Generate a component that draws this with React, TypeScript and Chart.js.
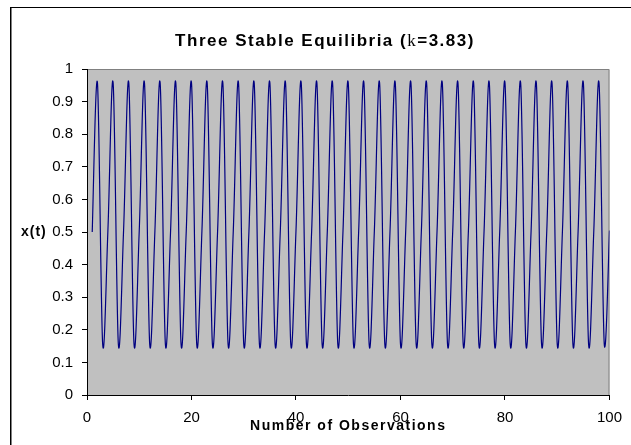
import { useEffect, useRef } from "react";
import { Chart, registerables } from "chart.js";

Chart.register(...registerables);

// Logistic map iterates, one value per observation (t = 1..100)
const X_VALUES: number[] = [
  0.5, 0.9575, 0.1559,
  0.5039, 0.9574, 0.156,
  0.5044, 0.9574, 0.1561,
  0.5046, 0.9574, 0.1561,
  0.5046, 0.9574, 0.1561,
  0.5047, 0.9574, 0.1561,
  0.5047, 0.9574, 0.1561,
  0.5047, 0.9574, 0.1561,
  0.5047, 0.9574, 0.1561,
  0.5047, 0.9574, 0.1561,
  0.5047, 0.9574, 0.1561,
  0.5047, 0.9574, 0.1561,
  0.5047, 0.9574, 0.1561,
  0.5047, 0.9574, 0.1561,
  0.5047, 0.9574, 0.1561,
  0.5047, 0.9574, 0.1561,
  0.5047, 0.9574, 0.1561,
  0.5047, 0.9574, 0.1561,
  0.5047, 0.9574, 0.1561,
  0.5047, 0.9574, 0.1561,
  0.5047, 0.9574, 0.1561,
  0.5047, 0.9574, 0.1561,
  0.5047, 0.9574, 0.1561,
  0.5047, 0.9574, 0.1561,
  0.5047, 0.9574, 0.1561,
  0.5047, 0.9574, 0.1561,
  0.5047, 0.9574, 0.1561,
  0.5047, 0.9574, 0.1561,
  0.5047, 0.9574, 0.1561,
  0.5047, 0.9574, 0.1561,
  0.5047, 0.9574, 0.1561,
  0.5047, 0.9574, 0.1561,
  0.5047, 0.9574, 0.1561,
  0.5047,
];
const OBSERVATIONS: number[] = X_VALUES.map((_, i) => i + 1);

const X_TICKS = [0, 20, 40, 60, 80, 100];
const Y_TICKS = [0, 0.1, 0.2, 0.3, 0.4, 0.5, 0.6, 0.7, 0.8, 0.9, 1];

const TITLE_PARTS = [
  { text: "Three Stable Equilibria (", font: "bold 17px 'Liberation Sans', Arial, sans-serif" },
  { text: "k", font: "17px 'Liberation Serif', 'Times New Roman', serif" },
  { text: "=3.83)", font: "bold 17px 'Liberation Sans', Arial, sans-serif" },
];
const X_TITLE = "Number of Observations";
const Y_TITLE = "x(t)";

const SANS = "'Liberation Sans', Arial, sans-serif";

// Smoothed line: cubic Bezier handles at 1/6 of the chord between
// neighbouring points (Catmull-Rom style), computed from the scaled points.
const smoothLine = {
  id: "smoothLine",
  beforeDatasetDraw(_chart: Chart, args: any) {
    const meta = args.meta;
    const pts = meta.data as any[];
    for (let i = 0; i < pts.length; i++) {
      const p = pts[i];
      const prev = pts[i - 1] || p;
      const next = pts[i + 1] || p;
      const tx = (next.x - prev.x) / 6;
      const ty = (next.y - prev.y) / 6;
      p.cp1x = p.x - tx;
      p.cp1y = p.y - ty;
      p.cp2x = p.x + tx;
      p.cp2y = p.y + ty;
    }
    if (meta.dataset) {
      meta.dataset._pointsUpdated = true;
      meta.dataset._path = undefined;
    }
  },
};

const decorations = {
  id: "decorations",
  beforeDraw(chart: Chart) {
    const { ctx, chartArea: a, width, height } = chart;
    ctx.save();
    ctx.fillStyle = "#ffffff";
    ctx.fillRect(0, 0, width, height);
    // plot area fill and its grey top/right edges
    ctx.fillStyle = "#c0c0c0";
    ctx.fillRect(a.left, a.top, a.right - a.left, a.bottom - a.top);
    ctx.strokeStyle = "#808080";
    ctx.lineWidth = 1;
    ctx.beginPath();
    ctx.moveTo(a.left, a.top + 0.5);
    ctx.lineTo(a.right - 0.5, a.top + 0.5);
    ctx.lineTo(a.right - 0.5, a.bottom);
    ctx.stroke();
    ctx.restore();
  },
  afterDraw(chart: Chart) {
    const { ctx, chartArea: a, width, height } = chart;
    ctx.save();
    // outer chart frame (left and top edges)
    ctx.fillStyle = "#000000";
    ctx.fillRect(10, 7, 1, height - 7);
    ctx.fillRect(10, 7, width - 10, 1);
    ctx.fillStyle = "#808080";
    ctx.fillRect(11, 8, 1, height - 8);

    // title with mixed fonts
    ctx.fillStyle = "#000000";
    ctx.textBaseline = "alphabetic";
    ctx.textAlign = "left";
    (ctx as any).letterSpacing = "1.5px";
    let total = 0;
    const widths = TITLE_PARTS.map((p) => {
      ctx.font = p.font;
      const w = ctx.measureText(p.text).width;
      total += w;
      return w;
    });
    let x = 325 - total / 2;
    TITLE_PARTS.forEach((p, i) => {
      ctx.font = p.font;
      ctx.fillText(p.text, x, 46);
      x += widths[i];
    });

    // axis titles
    ctx.font = `bold 14px ${SANS}`;
    (ctx as any).letterSpacing = "1.5px";
    ctx.textAlign = "center";
    ctx.fillText(X_TITLE, (a.left + a.right) / 2, 430);
    (ctx as any).letterSpacing = "1px";
    ctx.textAlign = "left";
    ctx.fillText(Y_TITLE, 21, 236);
    ctx.restore();
  },
};

export default function App() {
  const ref = useRef<HTMLCanvasElement>(null);

  useEffect(() => {
    if (!ref.current) return;
    const chart = new Chart(ref.current, {
      type: "line",
      data: {
        datasets: [
          {
            data: OBSERVATIONS.map((t, i) => ({ x: t, y: X_VALUES[i] })),
            borderColor: "#000080",
            borderWidth: 1.2,
            pointRadius: 0,
            tension: 0.3,
            fill: false,
          },
        ],
      },
      options: {
        animation: false,
        responsive: false,
        devicePixelRatio: 1,
        layout: { padding: { top: 69, right: 19, left: 0, bottom: 0 } },
        plugins: {
          legend: { display: false },
          title: { display: false },
          tooltip: { enabled: false },
        },
        scales: {
          x: {
            type: "linear",
            min: 0,
            max: 100,
            afterBuildTicks: (s: any) => {
              s.ticks = X_TICKS.map((v) => ({ value: v }));
            },
            afterFit: (s: any) => {
              s.height = 50;
            },
            border: { color: "#000000", width: 1 },
            grid: {
              drawOnChartArea: false,
              drawTicks: true,
              tickLength: 5,
              tickColor: "#000000",
              color: "#000000",
            },
            ticks: {
              color: "#000000",
              font: { family: SANS, size: 15 },
              padding: 9,
              maxRotation: 0,
              autoSkip: false,
            },
          },
          y: {
            type: "linear",
            min: 0,
            max: 1,
            afterBuildTicks: (s: any) => {
              s.ticks = Y_TICKS.map((v) => ({ value: v }));
            },
            afterFit: (s: any) => {
              s.width = 87;
            },
            border: { color: "#000000", width: 1 },
            grid: {
              drawOnChartArea: false,
              drawTicks: true,
              tickLength: 5,
              tickColor: "#000000",
              color: "#000000",
            },
            ticks: {
              color: "#000000",
              font: { family: SANS, size: 15 },
              padding: 9,
              autoSkip: false,
              callback: (v: any) => (v === 0 ? "0" : v === 1 ? "1" : Number(v).toFixed(1)),
            },
          },
        },
      },
      plugins: [smoothLine, decorations],
    });
    return () => chart.destroy();
  }, []);

  return (
    <div style={{ position: "absolute", left: 0, top: 0, width: 631, height: 445 }}>
      <canvas ref={ref} width={631} height={445} style={{ display: "block" }} />
    </div>
  );
}
